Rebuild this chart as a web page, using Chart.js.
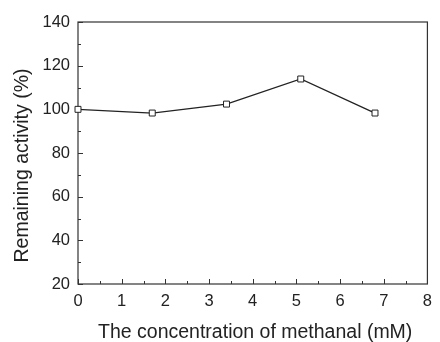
<!DOCTYPE html>
<html>
<head>
<meta charset="utf-8">
<script src="https://cdn.jsdelivr.net/npm/chart.js@4.4.0/dist/chart.umd.min.js"></script>
<style>
html,body{margin:0;padding:0;background:#fff;}
#wrap{width:440px;height:342px;}
</style>
</head>
<body>
<div id="wrap"><canvas id="c" width="440" height="342"></canvas></div>
<script>
const concentrations = [0, 1.7, 3.4, 5.1, 6.8];
const remainingActivity = [100, 98.3, 102.4, 113.9, 98.3];
const xTicks = [0, 1, 2, 3, 4, 5, 6, 7, 8];
const yTicks = [20, 40, 60, 80, 100, 120, 140];
const xTitle = 'The concentration of methanal (mM)';
const yTitle = 'Remaining activity (%)';

const FONT = '"Liberation Sans", Arial, sans-serif';
const AXIS = '#333';

const framePlugin = {
  id: 'frame',
  beforeDatasetsDraw(chart) {
    const ctx = chart.ctx, a = chart.chartArea;
    const xs = chart.scales.x, ys = chart.scales.y;
    ctx.save();
    ctx.strokeStyle = AXIS;
    ctx.lineWidth = 1.2;
    ctx.strokeRect(a.left, a.top, a.right - a.left, a.bottom - a.top);
    ctx.lineWidth = 1;
    ctx.beginPath();
    for (let v = xs.min; v <= xs.max + 1e-9; v += 0.5) {
      const px = Math.round(xs.getPixelForValue(v)) + 0.5;
      const len = (Math.abs(v - Math.round(v)) < 1e-9) ? 5 : 3;
      ctx.moveTo(px, a.bottom);
      ctx.lineTo(px, a.bottom - len);
    }
    for (let v = ys.min; v <= ys.max + 1e-9; v += 10) {
      const py = Math.round(ys.getPixelForValue(v)) + 0.5;
      const len = (v % 20 === 0) ? 5 : 3;
      ctx.moveTo(a.left, py);
      ctx.lineTo(a.left + len, py);
    }
    ctx.stroke();
    // axis titles
    ctx.fillStyle = '#222';
    ctx.font = '19.5px ' + FONT;
    ctx.textAlign = 'center';
    ctx.textBaseline = 'alphabetic';
    ctx.fillText(xTitle, (a.left + a.right) / 2 + 2.5, a.bottom + 53.5);
    ctx.translate(a.left - 50.5, (a.top + a.bottom) / 2 + 12.5);
    ctx.rotate(-Math.PI / 2);
    ctx.fillText(yTitle, 0, 0);
    ctx.restore();
  }
};

new Chart(document.getElementById('c'), {
  type: 'scatter',
  data: {
    datasets: [{
      data: concentrations.map((x, i) => ({x, y: remainingActivity[i]})),
      showLine: true,
      clip: false,
      borderColor: '#222',
      borderWidth: 1.3,
      pointStyle: 'rect',
      pointRadius: 4.2,
      pointBackgroundColor: '#fff',
      pointBorderColor: '#222',
      pointBorderWidth: 1,
      tension: 0
    }]
  },
  plugins: [framePlugin],
  options: {
    responsive: false,
    animation: false,
    events: [],
    layout: {padding: {left: 0, right: 6, top: 22, bottom: 0}},
    plugins: {legend: {display: false}, tooltip: {enabled: false}},
    scales: {
      x: {
        type: 'linear', min: 0, max: 8,
        afterBuildTicks(s) { s.ticks = xTicks.map(v => ({value: v})); },
        afterFit(s) { s.height = 58; },
        grid: {display: false, drawTicks: false},
        border: {display: false},
        ticks: {color: '#222', padding: 8, font: {family: FONT, size: 16.5}, maxRotation: 0},
        title: {display: false}
      },
      y: {
        type: 'linear', min: 20, max: 140,
        afterBuildTicks(s) { s.ticks = yTicks.map(v => ({value: v})); },
        afterFit(s) { s.width = 78; },
        grid: {display: false, drawTicks: false},
        border: {display: false},
        ticks: {color: '#222', padding: 8, font: {family: FONT, size: 16.5}},
        title: {display: false}
      }
    }
  }
});
</script>
</body>
</html>
